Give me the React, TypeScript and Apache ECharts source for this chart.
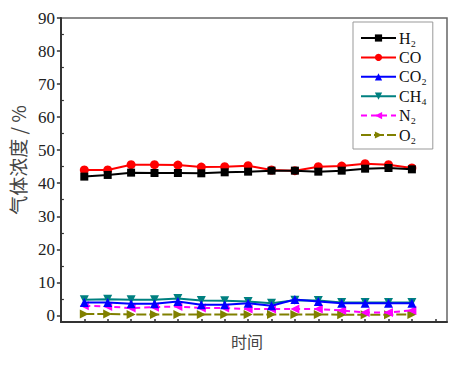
import React, { useEffect, useRef } from "react";
import * as echarts from "echarts";

const times = [1, 2, 3, 4, 5, 6, 7, 8, 9, 10, 11, 12, 13, 14, 15];
const seriesNames = ["H₂", "CO", "CO₂", "CH₄", "N₂", "O₂"];
const h2 = [42.0, 42.5, 43.2, 43.1, 43.1, 43.0, 43.3, 43.5, 43.8, 43.8, 43.5, 43.8, 44.4, 44.6, 44.2];
const co = [44.0, 44.0, 45.6, 45.6, 45.5, 44.9, 45.0, 45.3, 44.0, 43.8, 45.0, 45.2, 45.9, 45.6, 44.6];
const co2 = [3.9, 3.9, 3.5, 3.5, 4.2, 3.2, 3.2, 3.7, 2.9, 4.8, 4.2, 3.7, 3.7, 3.7, 3.7];
const ch4 = [4.7, 4.9, 4.7, 4.7, 5.1, 4.5, 4.4, 4.2, 3.7, 4.6, 4.5, 3.9, 3.9, 3.9, 3.9];
const n2 = [2.9, 2.7, 2.2, 2.5, 2.7, 2.2, 2.2, 1.9, 1.9, 1.9, 1.9, 1.5, 0.9, 0.9, 1.5];
const o2 = [0.4, 0.4, 0.3, 0.3, 0.3, 0.3, 0.3, 0.3, 0.3, 0.3, 0.3, 0.2, 0.2, 0.2, 0.3];
const yTickValues = [0, 10, 20, 30, 40, 50, 60, 70, 80, 90];
const yMinorValues = [5, 15, 25, 35, 45, 55, 65, 75, 85];
const xTickValues = [1, 2, 3, 4, 5, 6, 7, 8, 9, 10, 11, 12, 13, 14, 15, 16];

const colors = ["#000000", "#ff0000", "#0000ff", "#008080", "#ff00ff", "#808000"];
const symbols = ["rect", "circle", "triangle", "path://M0,0 L10,0 L5,9 Z", "path://M10,0 L10,10 L0,5 Z", "path://M0,0 L0,10 L10,5 Z"];
const lineTypes: any[] = ["solid", "solid", "solid", "solid", [6, 4], [10, 3]];
const sizes = [8, 9, 9, 9, 9, 9];

export default function App() {
  const ref = useRef<HTMLDivElement>(null);
  useEffect(() => {
    if (!ref.current) return;
    const chart = echarts.init(ref.current, null, { renderer: "svg" });
    const all = [h2, co, co2, ch4, n2, o2];
    const serif = "'Liberation Serif', 'Times New Roman', serif";
    chart.setOption({
      animation: false,
      backgroundColor: "#ffffff",
      grid: {
        left: 52,
        top: 18,
        right: 12,
        bottom: 44,
        show: true,
        borderColor: "#666",
        borderWidth: 1.5,
      },
      legend: {
        data: seriesNames,
        orient: "vertical",
        left: 353,
        top: 22,
        itemWidth: 35,
        itemHeight: 9,
        itemGap: 3.4,
        padding: [8, 6, 6, 7],
        borderColor: "#999",
        borderWidth: 1,
        textStyle: { fontFamily: serif, fontSize: 16, color: "#111", lineHeight: 16, padding: [0, 0, 0, -2] },
      },
      xAxis: {
        type: "value",
        min: 0,
        max: 16.5,
        name: "时间",
        nameLocation: "middle",
        nameGap: 11,
        nameTextStyle: {
          fontFamily: "'Noto Sans CJK SC', sans-serif",
          fontSize: 16,
          color: "#444",
          verticalAlign: "top",
          padding: [0, 14, 0, 0],
        },
        splitLine: { show: false },
        axisLine: { show: true, onZero: false, lineStyle: { color: "#333", width: 2 } },
        axisTick: { show: true, inside: true, length: 3, customValues: xTickValues, lineStyle: { color: "#333", width: 1.5 } },
        axisLabel: { show: false },
      },
      yAxis: [
        {
          type: "value",
          min: -2,
          max: 90,
          name: "气体浓度 / %",
          nameLocation: "middle",
          nameGap: 23,
          nameTextStyle: { fontFamily: "'Noto Sans CJK SC', sans-serif", fontSize: 19, color: "#444", padding: [0, 0, 0, 20] },
          splitLine: { show: false },
          axisLine: { show: true, onZero: false, lineStyle: { color: "#333", width: 2 } },
          axisTick: { show: true, inside: false, length: 4, customValues: yTickValues, lineStyle: { color: "#333", width: 1.5 } },
          axisLabel: { show: true, margin: 6, customValues: yTickValues, fontFamily: serif, fontSize: 17, color: "#222" },
        },
        {
          type: "value",
          min: -2,
          max: 90,
          position: "left",
          splitLine: { show: false },
          axisLine: { show: false },
          axisTick: { show: true, inside: true, length: 3, customValues: yMinorValues, lineStyle: { color: "#333", width: 1.2 } },
          axisLabel: { show: false, customValues: yMinorValues },
        },
      ],
      series: all.map((vals, i) => ({
        name: seriesNames[i],
        type: "line",
        data: times.map((t, j) => [t, vals[j]]),
        symbol: symbols[i],
        symbolSize: sizes[i],
        showSymbol: true,
        z: 10 - i,
        itemStyle: { color: colors[i] },
        lineStyle: { color: colors[i], width: 2, type: lineTypes[i] },
      })),
    });
    return () => chart.dispose();
  }, []);
  return <div ref={ref} style={{ position: "fixed", left: 0, top: 0, width: 459, height: 366 }} />;
}
